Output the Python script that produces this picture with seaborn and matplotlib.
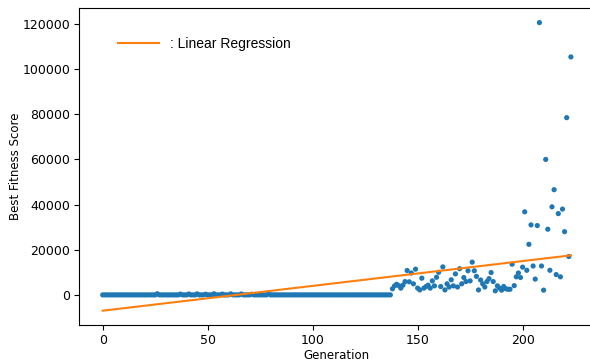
import numpy as np
import pandas as pd
import matplotlib
matplotlib.use("Agg")
import matplotlib.pyplot as plt
import seaborn as sns

# ---- data ----
early_small = {26: 500, 37: 350, 41: 400, 45: 450, 49: 300, 53: 500, 57: 350,
               61: 450, 66: 400, 71: 300, 79: 500}
late_scores = [
    2700, 4000, 4700, 4100, 3000, 4300, 5900, 10800, 5800, 9700,   # 138-147
    4900, 11400, 3000, 2200, 7400, 3000, 3700, 4300, 3000, 6200,   # 148-157
    4000, 7800, 10000, 3700, 12400, 2200, 4900, 3500, 6700, 4000,  # 158-167
    9300, 3500, 11600, 4900, 7700, 5900, 10700, 6200, 14500, 10700,  # 168-177
    8200, 2200, 6600, 4900, 3500, 5900, 7200, 9900, 5900, 1800,    # 178-187
    4000, 3000, 2100, 3700, 2700, 2500, 2500, 13600, 4100, 8000,   # 188-197
    9700, 7700, 12300, 36800, 10900, 22400, 31000, 12800, 7000, 30700,  # 198-207
    120600, 12800, 2100, 60000, 29100, 10900, 39000, 46600, 9000, 36000,  # 208-217
    8000, 38000, 28000, 78500, 17000, 105400,                      # 218-223
]
n_zero = 138
early_scores = [early_small.get(g, 0) for g in range(n_zero)]
generations = list(range(n_zero + len(late_scores)))
best_scores = early_scores + late_scores

df = pd.DataFrame({"Generation": generations, "Best Fitness Score": best_scores})
slope, intercept = np.polyfit(df["Generation"], df["Best Fitness Score"], 1)
df["fit"] = slope * df["Generation"] + intercept

# ---- plot ----
fig = plt.figure(figsize=(5.9, 3.6), dpi=100)
ax = fig.add_axes([79.3 / 590, 1 - 325.1 / 360, 515 / 590, 316.9 / 360])

sns.scatterplot(data=df, x="Generation", y="Best Fitness Score", ax=ax,
                color="#1f77b4", s=14, edgecolor="none", linewidth=0, zorder=2)
sns.lineplot(data=df, x="Generation", y="fit", ax=ax, color="#ff7f0e",
             linewidth=1.5, label=": Linear Regression", zorder=3)

ax.set_xlabel("Generation", fontsize=8.5, labelpad=1)
ax.set_ylabel("Best Fitness Score", fontsize=8.5, labelpad=0)
ax.tick_params(labelsize=9, pad=3)
ax.set_xticks([0, 50, 100, 150, 200])
ax.set_yticks([0, 20000, 40000, 60000, 80000, 100000, 120000])

leg = ax.legend(loc="upper left", frameon=False, handlelength=3.0,
                bbox_to_anchor=(0.05, 0.95),
                prop={"family": "Liberation Sans", "size": 10})

fig.savefig("out.png", dpi=100)
